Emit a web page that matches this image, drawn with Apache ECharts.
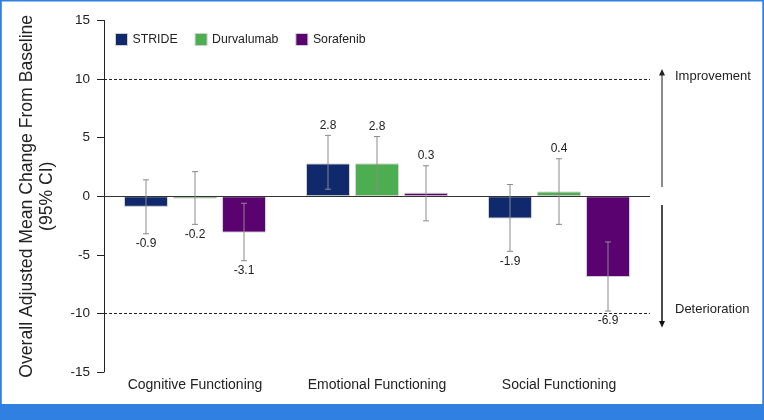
<!DOCTYPE html>
<html>
<head>
<meta charset="utf-8">
<script src="https://cdn.jsdelivr.net/npm/echarts@6/dist/echarts.min.js"></script>
<style>
html,body{margin:0;padding:0;background:#fff;}
#chart{width:764px;height:420px;}
</style>
</head>
<body>
<div id="chart"></div>
<script>
var categories = ['Cognitive Functioning', 'Emotional Functioning', 'Social Functioning'];
var seriesNames = ['STRIDE', 'Durvalumab', 'Sorafenib'];
var strideValues = [-0.9, 2.8, -1.9];
var durvalumabValues = [-0.2, 2.8, 0.4];
var sorafenibValues = [-3.1, 0.3, -6.9];
var strideLow = [-3.2, 0.6, -4.7];
var strideHigh = [1.4, 5.2, 1.0];
var durvalumabLow = [-2.4, 0.6, -2.4];
var durvalumabHigh = [2.1, 5.1, 3.2];
var sorafenibLow = [-5.5, -2.1, -9.8];
var sorafenibHigh = [-0.6, 2.6, -3.9];
var yTicks = [-15, -10, -5, 0, 5, 10, 15];

var colors = ['#10296c', '#4cae51', '#5a0370'];
var values = [strideValues, durvalumabValues, sorafenibValues];
var lows = [strideLow, durvalumabLow, sorafenibLow];
var highs = [strideHigh, durvalumabHigh, sorafenibHigh];

var FONT = 'Liberation Sans, Arial, sans-serif';
var BAR_W = 44, BAR_GAP = 5;

var chart = echarts.init(document.getElementById('chart'), null, {renderer: 'canvas'});

var series = [];
seriesNames.forEach(function (name, i) {
  var s = {
    name: name,
    type: 'bar',
    data: values[i],
    barWidth: BAR_W,
    barGap: (BAR_GAP / BAR_W * 100).toFixed(1) + '%',
    itemStyle: {color: colors[i], borderColor: '#d4d4d4', borderWidth: 1},
    emphasis: {disabled: true},
    z: 2
  };
  if (i === 0) {
    s.markLine = {
      silent: true,
      symbol: 'none',
      label: {show: false},
      data: [
        {yAxis: 10, lineStyle: {type: [3, 2], color: '#222', width: 1}},
        {yAxis: -10, lineStyle: {type: [3, 2], color: '#222', width: 1}},
        {yAxis: 0, lineStyle: {type: 'solid', color: '#333', width: 1}}
      ]
    };
  }
  series.push(s);
});

seriesNames.forEach(function (name, i) {
  var data = categories.map(function (c, k) {
    return [k, lows[i][k], highs[i][k], values[i][k]];
  });
  series.push({
    name: name + ' CI',
    type: 'custom',
    z: 5,
    silent: true,
    data: data,
    encode: {x: 0, y: [1, 2]},
    renderItem: function (params, api) {
      var k = api.value(0);
      var lo = api.coord([k, api.value(1)]);
      var hi = api.coord([k, api.value(2)]);
      var v = api.value(3);
      var x = lo[0] + (i - 1) * (BAR_W + BAR_GAP);
      var cap = 3;
      var st = {stroke: '#8a8a8a', lineWidth: 1};
      var lblY = v >= 0 ? hi[1] - 10 : lo[1] + 10;
      return {
        type: 'group',
        children: [
          {type: 'line', shape: {x1: x, y1: lo[1], x2: x, y2: hi[1]}, style: st},
          {type: 'line', shape: {x1: x - cap, y1: lo[1], x2: x + cap, y2: lo[1]}, style: st},
          {type: 'line', shape: {x1: x - cap, y1: hi[1], x2: x + cap, y2: hi[1]}, style: st},
          {type: 'text', style: {text: v.toFixed(1), x: x, y: lblY, align: 'center', verticalAlign: 'middle', fill: '#222', font: '12px ' + FONT}}
        ]
      };
    }
  });
});

var option = {
  animation: false,
  textStyle: {fontFamily: FONT},
  grid: {left: 104, right: 114, top: 20.5, bottom: 48, containLabel: false},
  legend: {
    data: seriesNames,
    left: 110,
    top: 28,
    itemWidth: 12,
    itemHeight: 12,
    itemGap: 17,
    selectedMode: false,
    icon: 'rect',
    textStyle: {fontSize: 12.3, color: '#222', fontFamily: FONT},
    itemStyle: {borderColor: '#cfcfcf', borderWidth: 1}
  },
  xAxis: {
    type: 'category',
    data: categories,
    axisLine: {show: false},
    axisTick: {show: false},
    axisLabel: {fontSize: 14, color: '#222', margin: 6, fontFamily: FONT}
  },
  yAxis: {
    type: 'value',
    min: yTicks[0],
    max: yTicks[yTicks.length - 1],
    interval: 5,
    splitLine: {show: false},
    axisLine: {show: true, lineStyle: {color: '#222', width: 1}},
    axisTick: {show: true, length: 7, lineStyle: {color: '#222'}},
    axisLabel: {fontSize: 13.5, color: '#222', margin: 14, fontFamily: FONT},
    name: 'Overall Adjusted Mean Change From Baseline\n(95% CI)',
    nameLocation: 'middle',
    nameGap: 47,
    nameTextStyle: {fontSize: 17.6, color: '#222', lineHeight: 20, fontFamily: FONT}
  },
  series: series
};

chart.setOption(option);

function py(v) { return chart.convertToPixel({yAxisIndex: 0}, v); }
var ax = 662;
var frame = '#3080e2';
chart.setOption({
  graphic: [
    {type: 'rect', silent: true, shape: {x: 0, y: 404, width: 764, height: 16}, style: {fill: frame}},
    {type: 'rect', silent: true, shape: {x: 0, y: 0, width: 764, height: 1.5}, style: {fill: frame}},
    {type: 'rect', silent: true, shape: {x: 0, y: 0, width: 1.8, height: 420}, style: {fill: frame}},
    {type: 'rect', silent: true, shape: {x: 762.3, y: 0, width: 2, height: 420}, style: {fill: frame}},
    {type: 'line', silent: true, shape: {x1: ax, y1: py(0.8), x2: ax, y2: py(10.4)}, style: {stroke: '#666', lineWidth: 1.5}},
    {type: 'polygon', silent: true, shape: {points: [[ax - 3, py(10.3)], [ax + 3, py(10.3)], [ax, py(10.85)]]}, style: {fill: '#222'}},
    {type: 'line', silent: true, shape: {x1: ax, y1: py(-0.75), x2: ax, y2: py(-10.7)}, style: {stroke: '#111', lineWidth: 1.5}},
    {type: 'polygon', silent: true, shape: {points: [[ax - 3, py(-10.65)], [ax + 3, py(-10.65)], [ax, py(-11.2)]]}, style: {fill: '#111'}},
    {type: 'text', silent: true, style: {text: 'Improvement', x: 675, y: py(10.25), verticalAlign: 'middle', fill: '#222', font: '13px ' + FONT}},
    {type: 'text', silent: true, style: {text: 'Deterioration', x: 675, y: py(-9.65), verticalAlign: 'middle', fill: '#222', font: '13px ' + FONT}}
  ]
});
</script>
</body>
</html>
